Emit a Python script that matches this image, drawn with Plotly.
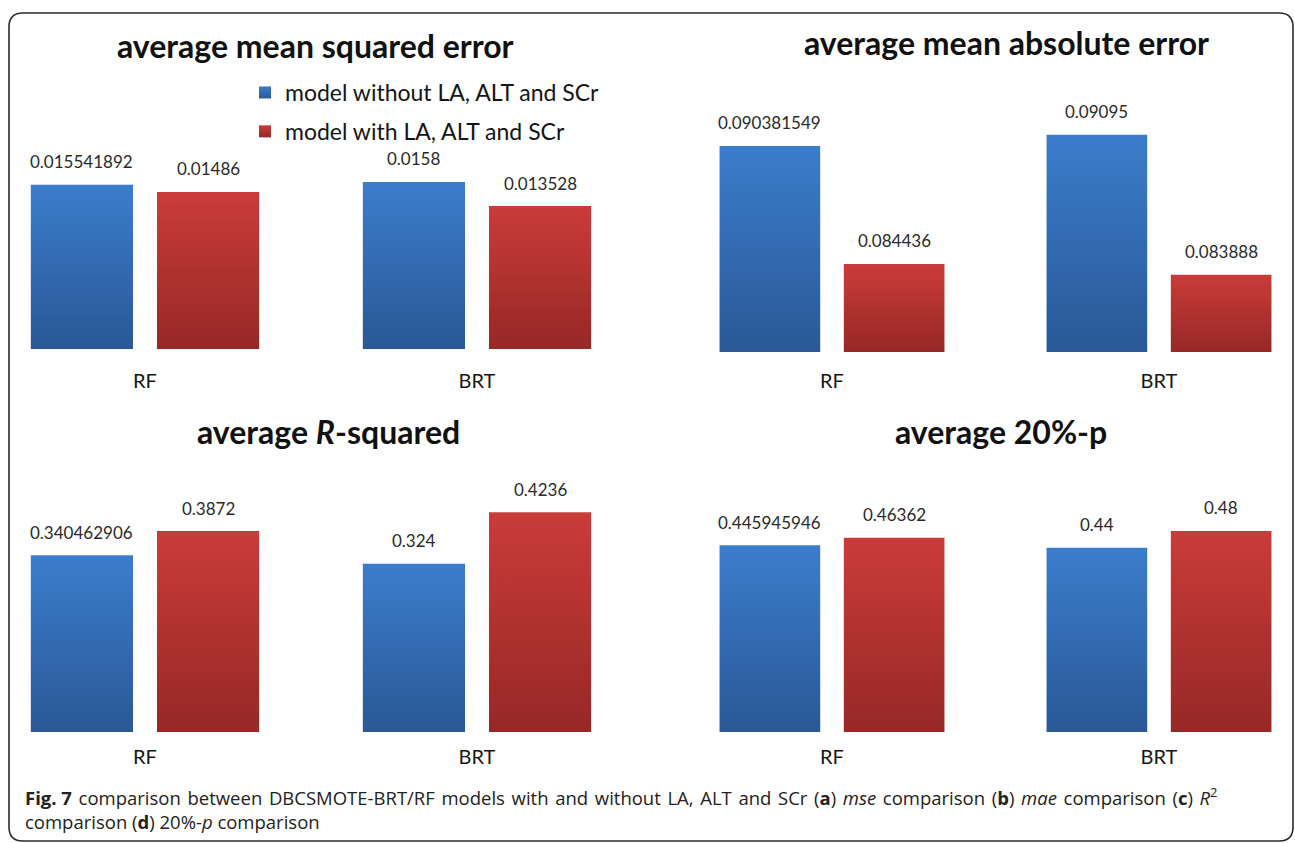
import plotly.graph_objects as go

# ---- data -------------------------------------------------------------
models = ["RF", "BRT"]
series_names = ["model without LA, ALT and SCr", "model with LA, ALT and SCr"]

mse_without = [0.015541892, 0.0158]
mse_with = [0.01486, 0.013528]
mae_without = [0.090381549, 0.09095]
mae_with = [0.084436, 0.083888]
r2_without = [0.340462906, 0.324]
r2_with = [0.3872, 0.4236]
p20_without = [0.445945946, 0.44]
p20_with = [0.46362, 0.48]

panel_titles = [
    "<b>average mean squared error</b>",
    "<b>average mean absolute error</b>",
    "<b>average <i>R</i>-squared</b>",
    "<b>average 20%-p</b>",
]

# ---- styling ----------------------------------------------------------
W, H = 1295, 843
BLUE_TOP, BLUE_BOTTOM = "rgb(59,125,204)", "rgb(42,88,150)"
RED_TOP, RED_BOTTOM = "rgb(202,60,58)", "rgb(150,40,38)"
FONT = "Lato, 'Open Sans', sans-serif"
BARGAP, GROUPGAP = 0.24, 0.19


def px_x(v):
    return v / W


def px_y(v):
    return 1 - v / H


# panel geometry: (x domain px, x range, y domain px, y range, bar base)
panels = [
    dict(xd=(12, 640), xr=(-0.4006, 1.4910), yd=(140, 349), yr=(0, 0.019773), base=0,
         data=(mse_without, mse_with), title_xy=(315, 45), stand=18),
    dict(xd=(655, 1290), xr=(-0.5413, 1.4006), yd=(110, 352), yr=(0.08, 0.092194), base=0.08,
         data=(mae_without, mae_with), title_xy=(1006, 43), stand=15),
    dict(xd=(12, 640), xr=(-0.4006, 1.4910), yd=(470, 732), yr=(0, 0.50482), base=0,
         data=(r2_without, r2_with), title_xy=(328, 431), stand=11),
    dict(xd=(655, 1290), xr=(-0.5413, 1.4006), yd=(470, 732), yr=(0, 0.62530), base=0,
         data=(p20_without, p20_with), title_xy=(1001, 431), stand=11),
]

fig = go.Figure()
annotations = []
layout_axes = {}
half_slot = (1 - BARGAP) / 4  # centre offset of each bar within a group

for i, p in enumerate(panels):
    k = i + 1
    xa, ya = ("x" if k == 1 else f"x{k}"), ("y" if k == 1 else f"y{k}")
    for j, (vals, color) in enumerate(zip(p["data"], [BLUE_TOP, RED_TOP])):
        fig.add_trace(go.Bar(
            x=models, y=[v - p["base"] for v in vals], base=p["base"],
            name=series_names[j], xaxis=xa, yaxis=ya,
            marker=dict(color=color, line=dict(width=0)),
            showlegend=(k == 1), legendgroup=f"g{j}",
        ))
        for c, v in enumerate(vals):
            annotations.append(dict(
                x=c + (half_slot if j else -half_slot), y=v, xref=xa, yref=ya,
                text=str(v), showarrow=False, yshift=23,
                font=dict(family=FONT, size=17, color="#2a2a2a"),
            ))
    layout_axes[f"xaxis{'' if k == 1 else k}"] = dict(
        domain=[px_x(p["xd"][0]), px_x(p["xd"][1])], range=list(p["xr"]),
        anchor=ya, type="category", showgrid=False, zeroline=False,
        showline=False, ticks="", ticklabelstandoff=p["stand"],
        tickfont=dict(family=FONT, size=20, color="#151515"),
    )
    layout_axes[f"yaxis{'' if k == 1 else k}"] = dict(
        domain=[px_y(p["yd"][1]), px_y(p["yd"][0])], range=list(p["yr"]),
        anchor=xa, showgrid=False, zeroline=False, showline=False,
        showticklabels=False, ticks="",
    )
    tx, ty = p["title_xy"]
    annotations.append(dict(
        x=px_x(tx), y=px_y(ty), xref="paper", yref="paper", text=panel_titles[i],
        showarrow=False, xanchor="center", yanchor="middle",
        font=dict(family=FONT, size=32, color="#111111"),
    ))

# caption (first line slightly spread towards the full width)
CAP_FONT = "'Open Sans', 'Noto Sans', sans-serif"
GAP = " \u200a"
caption_line1_words = [
    "<b>Fig. 7</b>", "comparison", "between", "DBCSMOTE-BRT/RF", "models", "with", "and",
    "without", "LA,", "ALT", "and", "SCr", "(<b>a</b>)", "<i>mse</i>", "comparison",
    "(<b>b</b>)", "<i>mae</i>", "comparison", "(<b>c</b>)", "<i>R</i><sup>2</sup>",
]
caption_text = (GAP.join(caption_line1_words)
                + "<br>comparison (<b>d</b>) 20%-<i>p</i> comparison")
annotations.append(dict(
    x=px_x(23), y=px_y(808), xref="paper", yref="paper", text=caption_text,
    showarrow=False, xanchor="left", yanchor="middle", align="left",
    font=dict(family=CAP_FONT, size=18.5, color="#222222"),
))

# rounded outer frame
x0, x1, y0, y1, r = 9, 1293, 13, 841, 14
def P(x, y):
    return f"{px_x(x):.6f},{px_y(y):.6f}"
frame_path = (
    f"M{P(x0 + r, y0)} L{P(x1 - r, y0)} Q{P(x1, y0)} {P(x1, y0 + r)} "
    f"L{P(x1, y1 - r)} Q{P(x1, y1)} {P(x1 - r, y1)} "
    f"L{P(x0 + r, y1)} Q{P(x0, y1)} {P(x0, y1 - r)} "
    f"L{P(x0, y0 + r)} Q{P(x0, y0)} {P(x0 + r, y0)} Z"
)

fig.update_layout(
    width=W, height=H, margin=dict(l=0, r=0, t=0, b=0),
    paper_bgcolor="white", plot_bgcolor="white",
    barmode="group", bargap=BARGAP, bargroupgap=GROUPGAP,
    annotations=annotations,
    shapes=[dict(type="path", path=frame_path, xref="paper", yref="paper",
                 line=dict(color="#2b2b2b", width=1.6), fillcolor="rgba(0,0,0,0)")],
    legend=dict(x=px_x(245), y=px_y(71), xanchor="left", yanchor="top",
                traceorder="grouped", tracegroupgap=6, bgcolor="rgba(0,0,0,0)",
                font=dict(family=FONT, size=23, color="#151515")),
    **layout_axes,
)

# vertical gradient fill for bars and legend swatches
GRADIENT_JS = """
var gd = document.getElementById('{plot_id}');
function paintBars(){
  var svg = gd.querySelector('svg.main-svg');
  var ns = 'http://www.w3.org/2000/svg';
  var defs = svg.querySelector('defs');
  function addGrad(id, top, bottom){
    if (document.getElementById(id)) return;
    var lg = document.createElementNS(ns, 'linearGradient');
    lg.setAttribute('id', id);
    lg.setAttribute('x1', '0'); lg.setAttribute('y1', '0');
    lg.setAttribute('x2', '0'); lg.setAttribute('y2', '1');
    [[0, top], [1, bottom]].forEach(function(s){
      var st = document.createElementNS(ns, 'stop');
      st.setAttribute('offset', s[0]);
      st.setAttribute('stop-color', s[1]);
      lg.appendChild(st);
    });
    defs.appendChild(lg);
  }
  addGrad('gradBlue', 'BLUE_TOP', 'BLUE_BOTTOM');
  addGrad('gradRed', 'RED_TOP', 'RED_BOTTOM');
  gd.querySelectorAll('.barlayer .point path, .legendpoints path').forEach(function(p){
    var f = (p.style.fill || '').replace(/\\s/g, '');
    if (f === 'BLUE_TOP') p.style.fill = 'url(#gradBlue)';
    else if (f === 'RED_TOP') p.style.fill = 'url(#gradRed)';
  });
}
paintBars();
gd.on('plotly_afterplot', paintBars);
"""
GRADIENT_JS = (GRADIENT_JS.replace("BLUE_TOP", BLUE_TOP).replace("BLUE_BOTTOM", BLUE_BOTTOM)
               .replace("RED_TOP", RED_TOP).replace("RED_BOTTOM", RED_BOTTOM))

fig.write_html("out.html", post_script=GRADIENT_JS)
